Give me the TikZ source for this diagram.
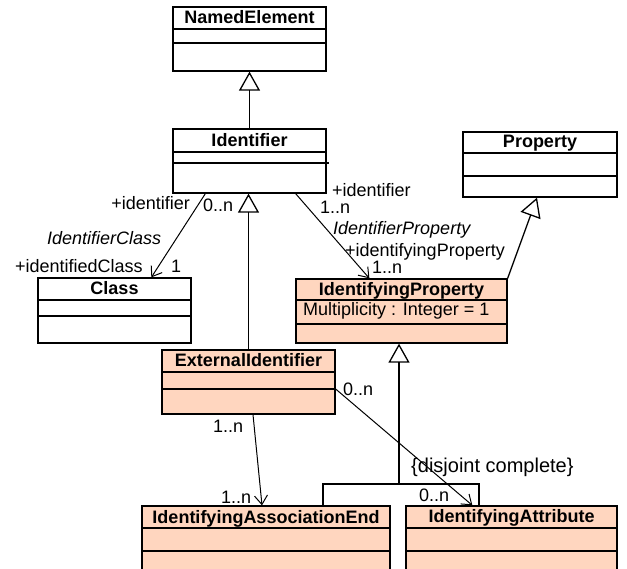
\documentclass[tikz,border=0pt]{standalone}
\usepackage{fontspec}
\setmainfont{Liberation Sans}
\usetikzlibrary{arrows.meta,fit}
\definecolor{idfill}{RGB}{255,214,191}
\newcommand{\compline}[2]{\draw[line width=1.3pt] (#1.west |- 0,#2) -- (#1.east |- 0,#2);}

\begin{document}
\begin{tikzpicture}[x=1pt,y=-1pt,
    font=\fontsize{18}{21}\selectfont,
    classbox/.style={draw, line width=1.3pt, inner sep=0pt, fill=white},
    newbox/.style={classbox, fill=idfill},
    cname/.style={font=\fontsize{18}{21}\selectfont\bfseries, inner sep=0pt, anchor=base},
    lbl/.style={inner sep=0pt, anchor=base west},
    role/.style={lbl, font=\fontsize{18}{21}\selectfont\itshape},
    gen/.style={line width=1.3pt, -{Triangle[open,length=19pt,width=21pt]}},
    assoc/.style={line width=1pt, -{Straight Barb[length=9pt,width=13pt]}}]
  \useasboundingbox (0,0) rectangle (627,569);
  \clip (0,0) rectangle (627,569);

  % the classes
  \node[classbox, fit={(173,7) (326,71)}] (named) {};
  \node[cname] (namedT) at (249.5,24) {NamedElement};
  \compline{named}{29}
  \compline{named}{43}

  \node[classbox, fit={(173,129) (326,193)}] (ident) {};
  \node[cname] (identT) at (249.5,147) {Identifier};
  \compline{ident}{152}
  \draw[line width=1.3pt] (ident.west |- 0,163) -- (329,163);

  \node[classbox, fit={(463,132) (617,197)}] (prop) {};
  \node[cname] (propT) at (540,148) {Property};
  \compline{prop}{153}
  \compline{prop}{176}

  \node[classbox, fit={(38,278) (191,343)}] (cls) {};
  \node[cname] (clsT) at (114.5,295) {Class};
  \compline{cls}{300}
  \compline{cls}{316}

  \node[newbox, fit={(296,279) (507,343)}] (idprop) {};
  \node[cname] (idpropT) at (401.5,296) {IdentifyingProperty};
  \compline{idprop}{300}
  \node[lbl] (mult) at (303,316) {Multiplicity : Integer = 1};
  \compline{idprop}{324}

  \node[newbox, fit={(162,350) (335,414)}] (extid) {};
  \node[cname] (extidT) at (248.5,367) {ExternalIdentifier};
  \compline{extid}{372}
  \compline{extid}{389}

  \node[newbox, fit={(142,506) (390,600)}] (assocend) {};
  \node[cname] (assocendT) at (266,523) {IdentifyingAssociationEnd};
  \compline{assocend}{528}
  \compline{assocend}{551}

  \node[newbox, fit={(406,506) (617,600)}] (attr) {};
  \node[cname] (attrT) at (511.5,522) {IdentifyingAttribute};
  \compline{attr}{528}
  \compline{attr}{551}

  % generalizations
  \draw[gen] (ident.north) -- (named.south);
  \draw[gen] (extid.north) -- (extid.north |- ident.south);
  \draw[gen] (idprop.north east) -- ([xshift=-3pt]prop.south);
  \coordinate (fork) at (399,484);
  \coordinate (legA) at (323,506);
  \coordinate (legB) at (479,506);
  \draw[gen] (fork) -- (fork |- idprop.south);
  \draw[line width=1.3pt] (legA) |- (fork) -| (legB);
  \node[lbl, font=\fontsize{20}{23}\selectfont] (dc) at (411,472) {\{disjoint complete\}};

  % associations
  \draw[assoc] ([xshift=33pt]ident.south west) -- ([xshift=114pt]cls.north west);
  \node[lbl, anchor=base east] (r1) at (190,210) {+identifier};
  \node[lbl] (m1) at (203,212) {0..n};
  \node[role] (a1) at (47,245) {IdentifierClass};
  \node[lbl] (r2) at (15,273) {+identifiedClass};
  \node[lbl] (m2) at (171,273) {1};

  \draw[assoc] ([xshift=-31pt]ident.south east) -- ([xshift=74pt]idprop.north west);
  \node[lbl] (r3) at (332,197) {+identifier};
  \node[lbl] (m3) at (320,214) {1..n};
  \node[role] (a2) at (333,235) {IdentifierProperty};
  \node[lbl] (r4) at (345,257) {+identifyingProperty};
  \node[lbl] (m4) at (372,274) {1..n};

  \draw[assoc] ([xshift=4.5pt]extid.south) -- ([xshift=-4pt]assocend.north);
  \node[lbl] (m5) at (213,432) {1..n};
  \node[lbl] (m6) at (221,503) {1..n};

  \draw[assoc] ([yshift=-7pt]extid.east) -- ([xshift=67pt]attr.north west);
  \node[lbl] (m7) at (343,396) {0..n};
  \node[lbl] (m8) at (419,501) {0..n};
\end{tikzpicture}
\end{document}
